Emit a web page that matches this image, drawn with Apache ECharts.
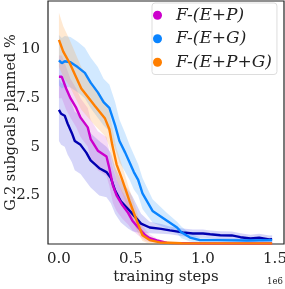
<!DOCTYPE html>
<html><head><meta charset="utf-8">
<script src="https://cdn.jsdelivr.net/npm/echarts@6/dist/echarts.min.js"></script>
<style>html,body{margin:0;padding:0;background:#fff}#c{width:285px;height:289px}</style>
</head><body><div id="c"></div>
<script>
const xTicks = [0, 0.5, 1.0, 1.5];
const yTicks = [2.5, 5, 7.5, 10];

const seriesNames = ['F-(E+P)', 'F-(E+G)', 'F-(E+P+G)'];

const navyX = [0,0.015,0.04,0.06,0.09,0.11,0.15,0.19,0.22,0.28,0.33,0.36,0.39,0.43,0.48,0.51,0.57,0.63,0.71,0.77,0.86,0.93,1.0,1.05,1.12,1.2,1.26,1.33,1.39,1.46,1.48];
const navyY = [6.9,6.7,6.6,6.2,5.7,5.3,5.1,4.7,4.3,3.9,3.7,3.4,2.75,2.2,1.8,1.55,1.05,0.85,0.78,0.7,0.6,0.54,0.54,0.5,0.45,0.44,0.35,0.28,0.33,0.24,0.25];
const navyS = [1.6,1.6,1.6,1.6,1.5,1.5,1.5,1.5,1.4,1.4,1.3,1.3,1.2,1.1,1.0,0.9,0.5,0.3,0.25,0.2,0.2,0.2,0.2,0.2,0.2,0.2,0.2,0.2,0.2,0.2,0.2];

const magX = [0,0.02,0.05,0.08,0.12,0.15,0.2,0.22,0.27,0.33,0.35,0.375,0.40,0.44,0.48,0.51,0.55,0.6,0.63,0.68,0.75,1.0,1.48];
const magY = [8.6,8.6,8.0,7.5,7.0,6.5,6.0,5.4,4.8,4.5,3.9,3.0,2.5,2.0,1.6,1.2,0.85,0.45,0.3,0.18,0.06,0.03,0.03];
const magS = [1.1,1.1,1.1,1.0,1.0,1.0,1.0,1.0,1.0,1.0,0.9,0.9,0.8,0.7,0.6,0.5,0.4,0.3,0.2,0.1,0.05,0.02,0.02];

const blueX = [0,0.02,0.04,0.08,0.13,0.18,0.22,0.27,0.31,0.35,0.39,0.42,0.46,0.49,0.52,0.55,0.58,0.65,0.75,0.82,0.85,0.91,0.98,1.1,1.3,1.48];
const blueY = [9.45,9.3,9.4,9.35,9.1,8.8,8.3,7.8,7.3,7.0,6.1,5.3,4.7,4.2,3.7,3.3,2.6,1.7,1.2,0.85,0.6,0.33,0.2,0.2,0.18,0.2];
const blueS = [1.3,1.3,1.3,1.3,1.3,1.3,1.3,1.3,1.2,1.2,1.2,1.1,1.0,0.9,0.9,0.8,0.8,0.6,0.4,0.3,0.3,0.2,0.15,0.1,0.1,0.1];

const orX = [0,0.03,0.075,0.155,0.25,0.32,0.35,0.37,0.40,0.44,0.49,0.54,0.58,0.63,0.70,0.85,1.0,1.2,1.48];
const orY = [10.5,9.9,9.3,8.0,7.1,6.45,5.9,5.1,4.1,3.3,2.2,1.2,0.45,0.2,0.08,0.04,0.03,0.03,0.03];
const orS = [1.4,1.3,1.2,1.1,1.0,0.9,0.9,0.9,0.8,0.7,0.6,0.5,0.3,0.2,0.1,0.05,0.03,0.03,0.03];

const colors = {navy:'#0000b0', mag:'#cc00cc', blue:'#0a84ff', orange:'#ff7f00'};

function pairs(xs, ys){ return xs.map((x,i)=>[x, ys[i]]); }
function band(xs, ys, ss, color, opacity){
  return {
    type:'custom', silent:true, z:1,
    data:[[xs[0], ys[0]]],
    renderItem:function(params, api){
      const pts = [];
      for(let i=0;i<xs.length;i++) pts.push(api.coord([xs[i], ys[i]+ss[i]]));
      for(let i=xs.length-1;i>=0;i--) pts.push(api.coord([xs[i], Math.max(0, ys[i]-ss[i])]));
      return {type:'polygon', shape:{points:pts}, style:{fill:color, opacity:opacity}};
    }
  };
}
function line(name, xs, ys, color, z){
  return {type:'line', name:name, data:pairs(xs,ys), showSymbol:false, symbol:'circle',
    lineStyle:{color:color, width:2.4}, itemStyle:{color:color}, z:z, silent:true};
}

const fontFam = '"DejaVu Serif", serif';
const chart = echarts.init(document.getElementById('c'), null, {renderer:'canvas'});
chart.setOption({
  animation:false,
  grid:{left:48, top:1, right:1, bottom:45, show:true, borderColor:'#222', borderWidth:1.2,
    containLabel:false, outerBoundsMode:'none'},
  legend:{
    data:seriesNames, orient:'vertical', left:152, top:3,
    icon:'circle', itemWidth:9, itemHeight:9, itemGap:5,
    backgroundColor:'#fff', borderColor:'#ddd', borderWidth:1, borderRadius:3,
    padding:[3,5,3,1],
    textStyle:{fontFamily:fontFam, fontStyle:'italic', fontSize:17, lineHeight:18.5, color:'#222', padding:[0,0,0,9]}
  },
  xAxis:{type:'value', min:-0.076, max:1.5625,
    name:'training steps', nameLocation:'middle', nameGap:26, nameMoveOverlap:false,
    nameTextStyle:{fontFamily:fontFam, fontSize:15, color:'#222'},
    axisLine:{show:false}, axisTick:{show:false}, splitLine:{show:false},
    axisLabel:{customValues:xTicks, formatter:v=>v.toFixed(1), margin:8,
      fontFamily:fontFam, fontSize:15, color:'#222'}},
  yAxis:{type:'value', min:0, max:12.5,
    name:'G.2 subgoals planned %', nameLocation:'middle', nameGap:29, nameMoveOverlap:false,
    nameTextStyle:{fontFamily:fontFam, fontSize:14.5, color:'#222'},
    axisLine:{show:false}, axisTick:{show:false}, splitLine:{show:false},
    axisLabel:{customValues:yTicks, formatter:v=>String(v), margin:8,
      fontFamily:fontFam, fontSize:15, color:'#222'}},
  graphic:[{type:'text', left:267, top:277, style:{text:'1e6', fontFamily:fontFam, fontSize:8.5, fill:'#222'}}],
  series:[
    band(navyX, navyY, navyS, '#5a5ae6', 0.25),
    band(magX, magY, magS, '#cc33cc', 0.18),
    band(blueX, blueY, blueS, '#3399ff', 0.22),
    band(orX, orY, orS, '#ff9933', 0.22),
    line('navy', navyX, navyY, colors.navy, 3),
    line(seriesNames[0], magX, magY, colors.mag, 4),
    line(seriesNames[1], blueX, blueY, colors.blue, 5),
    line(seriesNames[2], orX, orY, colors.orange, 6)
  ]
});
</script></body></html>
